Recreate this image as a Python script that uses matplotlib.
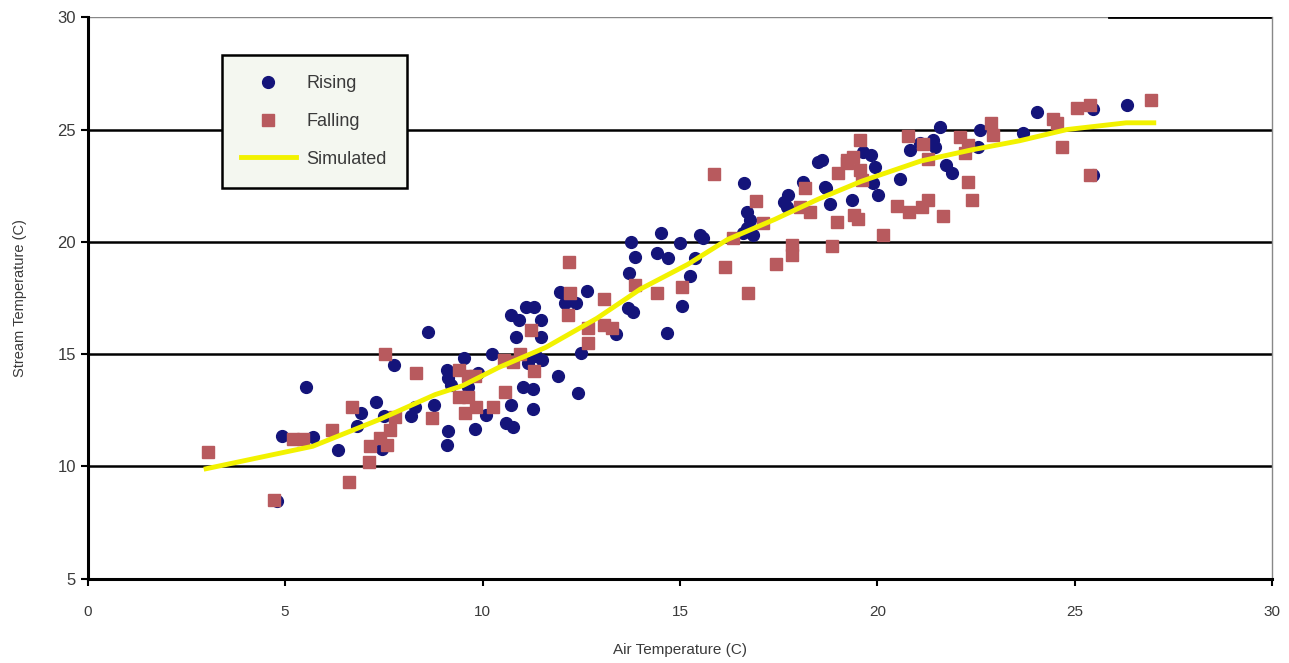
import matplotlib.pyplot as plt
import numpy as np

plt.rcParams['font.family'] = ['Liberation Sans', 'DejaVu Sans']

# observed stream temperature vs air temperature
rising_air = [4.91, 4.8, 5.52, 5.71, 6.34, 6.83, 6.93, 7.30, 7.5, 7.45, 7.76, 8.2, 8.28, 8.77,
              8.62, 9.09, 9.13, 9.21, 9.53, 9.64, 9.89, 10.23, 9.09, 9.13, 9.80, 10.1, 10.6,
              10.78, 10.73, 10.73, 10.86, 10.93, 11.03, 11.11, 11.15, 11.28, 11.28, 11.31,
              11.36, 11.48, 11.49, 11.51, 11.9, 11.96, 12.09, 12.38, 12.41, 12.49, 12.65,
              13.38, 13.69, 13.71, 13.76, 13.81, 13.86, 14.41, 14.53, 14.68, 14.7, 15.0,
              15.04, 15.25, 15.38, 15.51, 15.59, 16.6, 16.62, 16.69, 16.69, 16.77, 16.86,
              17.64, 17.7, 17.74, 18.12, 18.5, 18.59, 18.67, 18.71, 18.8, 19.35, 19.64,
              19.85, 19.9, 19.94, 20.02, 20.57, 20.83, 21.08, 21.42, 21.46, 21.59, 21.75,
              21.88, 22.56, 22.6, 23.7, 24.03, 25.47, 25.45, 26.31]
rising_stream = [11.36, 8.45, 13.53, 11.33, 10.74, 11.81, 12.40, 12.86, 12.25, 10.8, 14.52,
                 12.25, 12.64, 12.74, 16.0, 14.30, 13.93, 13.63, 14.82, 13.56, 14.15, 15.0,
                 10.96, 11.56, 11.66, 12.27, 11.92, 11.77, 12.74, 16.74, 15.78, 16.52, 13.56,
                 17.11, 14.59, 13.44, 12.55, 17.11, 14.92, 16.52, 15.78, 14.74, 14.03, 17.78,
                 17.26, 17.26, 13.26, 15.07, 17.82, 15.88, 17.04, 18.63, 20.0, 16.89, 19.34,
                 19.52, 20.41, 15.96, 19.26, 19.93, 17.14, 18.48, 19.26, 20.3, 20.15, 20.38,
                 22.6, 21.34, 20.6, 20.97, 20.3, 21.78, 21.56, 22.08, 22.67, 23.56, 23.64,
                 22.45, 22.38, 21.67, 21.86, 24.01, 23.86, 22.6, 23.34, 22.08, 22.82, 24.08,
                 24.38, 24.53, 24.23, 25.12, 23.42, 23.05, 24.23, 24.97, 24.83, 25.79, 25.9,
                 22.97, 26.09]

falling_air = [3.05, 4.72, 5.2, 5.45, 6.2, 6.62, 6.69, 7.13, 7.14, 7.40, 7.54, 7.57, 7.65,
               7.78, 8.32, 8.72, 9.40, 9.40, 9.55, 9.64, 9.64, 9.8, 9.83, 10.27, 10.55, 10.56,
               10.78, 10.96, 11.24, 11.30, 12.17, 12.2, 12.21, 12.66, 12.68, 13.08, 13.08,
               13.27, 13.86, 14.43, 15.04, 15.87, 16.14, 16.35, 16.73, 16.92, 17.11, 17.43,
               17.83, 17.85, 18.04, 18.17, 18.29, 18.86, 18.97, 19.0, 19.22, 19.22, 19.39,
               19.4, 19.5, 19.56, 19.56, 19.6, 20.15, 20.49, 20.77, 20.81, 21.12, 21.16,
               21.29, 21.29, 21.65, 22.09, 22.22, 22.3, 22.3, 22.39, 22.89, 22.94, 24.46,
               24.54, 24.67, 25.05, 25.39, 25.39, 26.92]
falling_stream = [10.64, 8.51, 11.21, 11.21, 11.63, 9.33, 12.64, 10.22, 10.92, 11.26, 15.0,
                  10.96, 11.63, 12.22, 14.15, 12.15, 14.30, 13.11, 12.37, 14.03, 13.11, 14.03,
                  12.67, 12.64, 14.74, 13.33, 14.67, 15.0, 16.08, 14.27, 16.74, 19.09, 17.74,
                  16.18, 15.48, 17.46, 16.30, 16.15, 18.08, 17.71, 18.0, 23.0, 18.89, 20.18,
                  17.71, 21.81, 20.82, 19.0, 19.86, 19.41, 21.56, 22.38, 21.34, 19.81, 20.9,
                  23.05, 23.49, 23.64, 23.79, 21.2, 21.0, 24.53, 23.19, 22.75, 20.3, 21.59,
                  24.71, 21.34, 21.56, 24.35, 23.71, 21.86, 21.15, 24.68, 23.94, 24.31, 22.67,
                  21.86, 25.27, 24.75, 25.49, 25.27, 24.23, 25.94, 26.09, 22.97, 26.31]

sim_air = [3.0, 5.7, 7.4, 8.8, 9.5, 10.4, 11.6, 12.9, 14.0, 15.2, 16.2, 17.4, 18.5, 19.6,
           21.1, 22.4, 23.6, 24.8, 26.3, 27.0]
sim_stream = [9.9, 10.9, 12.1, 13.2, 13.6, 14.4, 15.3, 16.6, 17.9, 19.0, 20.1, 21.0, 21.9,
              22.7, 23.6, 24.1, 24.5, 25.0, 25.3, 25.3]

xticks = [0, 5, 10, 15, 20, 25, 30]
yticks = [5, 10, 15, 20, 25, 30]

text_col = '#3a3a3a'

fig = plt.figure(figsize=(12.89, 6.63), dpi=100)
ax = fig.add_axes([0.068, 0.127, 0.919, 0.847])

# horizontal grid
for yv in yticks[1:-1]:
    ax.axhline(yv, color='black', lw=1.8, zorder=1)
ax.axhline(30, color='#888888', lw=1.0, zorder=1)
ax.axhline(30, xmin=0.862, color='black', lw=2.0, zorder=1)

ax.plot(rising_air, rising_stream, 'o', color='#14147a', ms=8.5, mec='#14147a',
        label='Rising', zorder=3)
ax.plot(falling_air, falling_stream, 's', color='#b85a5e', ms=8.5, mec='#b85a5e',
        label='Falling', zorder=3)
ax.plot(sim_air, sim_stream, '-', color='#f2f200', lw=3.5, label='Simulated', zorder=4)

ax.set_xlim(0, 30)
ax.set_ylim(5, 30)
ax.set_xticks(xticks)
ax.set_yticks(yticks)
ax.tick_params(axis='both', direction='out', length=5, width=1.5, colors='black',
               labelcolor=text_col)
ax.tick_params(axis='x', pad=14, labelsize=11)
ax.tick_params(axis='y', labelsize=12)

for s in ['left', 'bottom']:
    ax.spines[s].set_linewidth(2.2)
    ax.spines[s].set_color('black')
ax.spines['top'].set_visible(False)
ax.spines['right'].set_color('#888888')
ax.spines['right'].set_linewidth(1.0)

ax.set_xlabel('Air Temperature (C)', fontsize=11, color=text_col, labelpad=17)
ax.set_ylabel('Stream Temperature (C)', fontsize=10.5, color=text_col, labelpad=22)

leg = ax.legend(loc='upper left', bbox_to_anchor=(0.113, 0.932), fontsize=13,
                frameon=True, fancybox=False, borderpad=1.1, labelspacing=1.15,
                handlelength=3.0, handletextpad=0.6, borderaxespad=0)
leg.get_frame().set_edgecolor('black')
leg.get_frame().set_linewidth(1.8)
leg.get_frame().set_facecolor('#f4f7f0')
leg.get_frame().set_alpha(1)
for t in leg.get_texts():
    t.set_color(text_col)

plt.savefig('out.png', dpi=100)
